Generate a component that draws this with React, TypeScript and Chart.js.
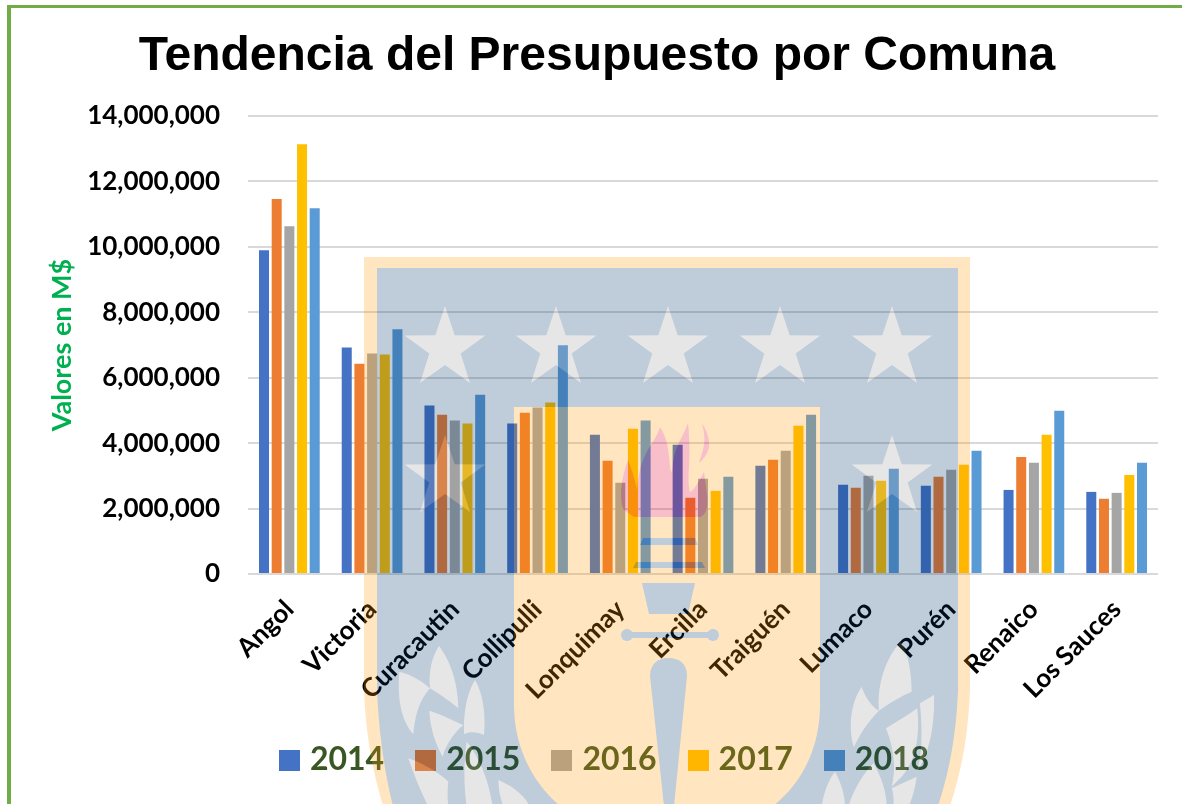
import React, { useEffect, useRef } from "react";
import { Chart, registerables } from "chart.js";

Chart.register(...registerables);

const communes = ["Angol", "Victoria", "Curacautin", "Collipulli", "Lonquimay", "Ercilla", "Traiguén", "Lumaco", "Purén", "Renaico", "Los Sauces"];
const values2014 = [9900000, 6920000, 5150000, 4600000, 4260000, 3950000, 3310000, 2730000, 2700000, 2570000, 2510000];
const values2015 = [11460000, 6430000, 4870000, 4930000, 3460000, 2330000, 3490000, 2640000, 2970000, 3580000, 2300000];
const values2016 = [10630000, 6740000, 4690000, 5090000, 2790000, 2910000, 3770000, 3000000, 3190000, 3400000, 2480000];
const values2017 = [13140000, 6710000, 4600000, 5240000, 4440000, 2540000, 4530000, 2850000, 3340000, 4260000, 3030000];
const values2018 = [11180000, 7480000, 5480000, 6990000, 4690000, 2970000, 4870000, 3220000, 3770000, 4990000, 3400000];
const years = ["2014", "2015", "2016", "2017", "2018"];
const colors = ["#4472C4", "#ED7D31", "#A5A5A5", "#FFC000", "#5B9BD5"];
const series = [values2014, values2015, values2016, values2017, values2018];

const BLUE = "#00346C";
const AMBER = "#FF9804";
const GRAY = "#9C9C9C";
const RED = "#E4002C";

function starPoints(cx: number, tip: number): string {
  const pts: string[] = [];
  const R = 42.5;
  const r = 16.5;
  const cy = tip + R;
  for (let i = 0; i < 10; i++) {
    const a = -Math.PI / 2 + (i * Math.PI) / 5;
    const rad = i % 2 === 0 ? R : r;
    pts.push(`${(cx + rad * Math.cos(a)).toFixed(1)},${(cy + rad * Math.sin(a)).toFixed(1)}`);
  }
  return pts.join(" ");
}

const starsTop = [445, 556, 668, 780, 892];
const starsLow = [445, 892];

function Watermark() {
  return (
    <svg
      width={1182}
      height={804}
      style={{ position: "absolute", left: 0, top: 0, opacity: 0.25, pointerEvents: "none" }}
    >
      <path d="M364,257 H970 V690 C968,740 960,775 950,806 H383 C374,775 366,740 364,690 Z" fill={AMBER} />
      <path d="M377,268 H958 V690 C956,740 948,775 938,806 H393 C385,775 379,735 377,690 Z" fill={BLUE} />
      <path d="M514,407 H820 V705 C820,750 800,785 773,806 H560 C535,785 514,750 514,705 Z" fill={AMBER} />
      {starsTop.map((x) => <polygon key={x} points={starPoints(x, 306)} fill={GRAY} />)}
      {starsLow.map((x) => <polygon key={x} points={starPoints(x, 435)} fill={GRAY} />)}
      <g fill={RED}>
        <path d="M634,517 H700 C707,515 708,505 707,495 L704,472 C700,480 694,490 690,492 C686,480 692,460 688,423 C682,440 674,445 672,472 C668,470 672,445 660,427 C655,445 640,450 637,490 C635,480 632,470 628,460 C622,475 618,500 624,510 Z" />
        <path d="M702,423 C712,440 712,452 699,463 C705,445 706,440 702,423 Z" />
      </g>
      <g fill={BLUE}>
        <polygon points="643,538 695,538 698,545 640,545" />
        <polygon points="636,562 702,562 705,568 633,568" />
        <polygon points="642,583 695,583 688,614 649,614" />
        <rect x={626} y={632} width={88} height={6} />
        <circle cx={627} cy={635} r={6} />
        <circle cx={713} cy={635} r={6} />
        <path d="M650,676 C650,664 658,658 668,658 C680,658 687,664 687,676 L674,806 H664 Z" />
      </g>
      <g fill={GRAY} transform="translate(360,590) scale(0.3333)">
        <path d="M237,168 C270,210 295,280 295,355 C265,330 235,310 210,295 C205,250 215,200 237,168 Z" />
        <path d="M118,245 C160,255 195,280 210,295 C175,335 165,380 160,432 C130,400 110,340 118,245 Z" />
        <path d="M208,362 C250,375 285,395 310,405 C280,430 255,470 248,500 C225,460 210,410 208,362 Z" />
        <path d="M345,270 C370,310 378,380 372,435 C350,425 330,425 312,432 C310,370 320,310 345,270 Z" />
        <path d="M145,505 C190,520 240,550 265,575 C262,600 262,620 265,650 H205 C180,600 160,550 145,505 Z" />
        <path d="M320,455 C350,490 385,560 398,650 H320 C310,580 312,510 320,455 Z" />
        <path d="M415,570 C450,585 490,610 510,650 H430 C420,620 416,600 415,570 Z" />
      </g>
      <g fill={GRAY} transform="translate(660,590) scale(0.3333)">
        <path d="M722,155 C745,190 755,250 755,305 C720,320 680,345 657,362 C650,280 680,200 722,155 Z" />
        <path d="M605,290 C615,320 635,350 657,362 C620,400 595,440 582,472 C565,420 570,340 605,290 Z" />
        <path d="M772,355 C780,430 770,510 725,560 L695,590 C710,530 700,470 678,415 C710,395 745,375 772,355 Z" />
        <path d="M822,315 C825,400 810,490 770,545 C790,490 785,400 780,340 Z" />
        <path d="M525,545 C545,580 555,620 555,650 H485 C490,610 505,570 525,545 Z" />
        <path d="M640,520 C665,560 680,610 680,650 H565 C580,600 610,550 640,520 Z" />
        <path d="M695,595 L770,560 C765,600 755,630 745,650 H700 C702,625 700,610 695,595 Z" />
      </g>
    </svg>
  );
}

function swatch(color: string): HTMLCanvasElement {
  const c = document.createElement("canvas");
  c.width = 21;
  c.height = 21;
  const g = c.getContext("2d")!;
  g.fillStyle = color;
  g.fillRect(0, 0, 21, 21);
  return c;
}

const nudgePlugin = {
  id: "nudge",
  afterLayout(chart: any) {
    if (chart.legend) chart.legend.left += 16;
    if (chart.titleBlock) chart.titleBlock.left -= 4;
  },
};

export default function App() {
  const ref = useRef<HTMLCanvasElement>(null);

  useEffect(() => {
    const swatches = colors.map(swatch);
    const chart = new Chart(ref.current!, {
      type: "bar",
      plugins: [nudgePlugin],
      data: {
        labels: communes,
        datasets: years.map((y, i) => ({
          label: y,
          data: series[i],
          backgroundColor: colors[i],
          borderWidth: 0,
          categoryPercentage: 0.766,
          barPercentage: 0.79,
        })),
      },
      options: {
        responsive: false,
        animation: false,
        layout: { padding: { left: 40, right: 24, top: 28, bottom: 18 } },
        plugins: {
          title: {
            display: true,
            text: "Tendencia del Presupuesto por Comuna",
            color: "#000000",
            font: { family: "'Liberation Sans'", size: 48, weight: "bold" },
            padding: { top: 0, bottom: 30.4 },
          },
          legend: {
            position: "bottom",
            labels: {
              color: "#385723",
              font: { family: "Lato", size: 32, weight: "bold" },
              boxWidth: 9,
              boxHeight: 21,
              usePointStyle: true,
              padding: 37,
              generateLabels: (c: Chart) =>
                Chart.defaults.plugins.legend.labels.generateLabels(c).map((item: any, i: number) => ({
                  ...item,
                  pointStyle: swatches[i],
                })),
            },
          },
          tooltip: { enabled: false },
        },
        scales: {
          x: {
            grid: { display: false },
            border: { display: false },
            ticks: {
              color: "#000000",
              font: { family: "Lato", size: 26, weight: "bold" },
              minRotation: 45,
              maxRotation: 45,
              autoSkip: false,
              padding: 12,
            },
            afterFit: (s: any) => {
              s.height = 133;
            },
          },
          y: {
            min: 0,
            max: 14000000,
            border: { display: false },
            grid: { color: "#D9D9D9", lineWidth: 2, drawTicks: false },
            ticks: {
              stepSize: 2000000,
              color: "#000000",
              font: { family: "Lato", size: 26, weight: "bold" },
              padding: 28,
              callback: (v: any) => Number(v).toLocaleString("en-US"),
            },
            title: {
              display: true,
              text: "Valores en M$",
              color: "#00B050",
              font: { family: "Lato", size: 27, weight: "bold" },
              padding: { top: 6, bottom: 0 },
            },
            afterFit: (s: any) => {
              s.width = 208;
            },
          },
        },
      },
    } as any);
    return () => chart.destroy();
  }, []);

  return (
    <div style={{ position: "fixed", left: 0, top: 0, width: 1182, height: 804, overflow: "hidden", background: "#fff" }}>
      <canvas ref={ref} width={1182} height={804} style={{ position: "absolute", left: 0, top: 0, display: "block" }} />
      <div
        style={{
          position: "absolute",
          left: 7,
          top: 5,
          width: 1300,
          height: 1000,
          borderLeft: "4px solid #70AD47",
          borderTop: "3px solid #70AD47",
        }}
      />
      <Watermark />
    </div>
  );
}
